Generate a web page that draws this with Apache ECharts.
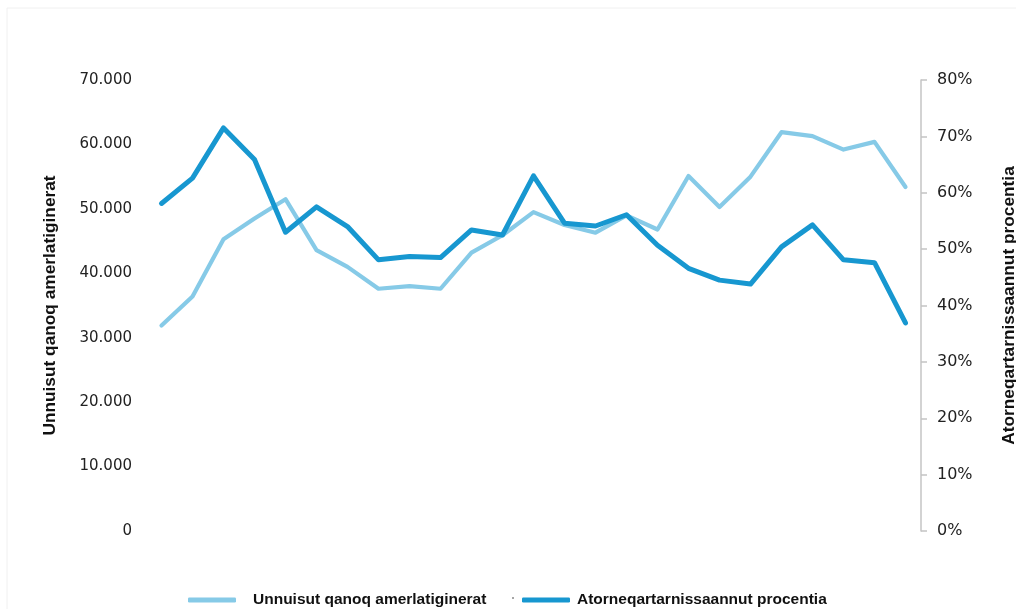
<!DOCTYPE html>
<html>
<head>
<meta charset="utf-8">
<script src="https://cdn.jsdelivr.net/npm/echarts@6/dist/echarts.min.js"></script>
<style>html,body{margin:0;padding:0;background:#fff;}#c{width:1016px;height:609px;}</style>
</head>
<body>
<div id="c"></div>
<script>
// Data
const categories = ["1","2","3","4","5","6","7","8","9","10","11","12","13","14","15","16","17","18","19","20","21","22","23","24","25"];
const countValues = [31900, 36400, 45300, 48500, 51500, 43600, 41000, 37600, 38000, 37600, 43200, 45900, 49500, 47500, 46300, 49000, 46800, 55100, 50300, 55000, 61900, 61300, 59200, 60400, 53400];
const percentValues = [58.1, 62.6, 71.5, 65.9, 53.0, 57.5, 54.0, 48.1, 48.7, 48.5, 53.4, 52.5, 63.0, 54.6, 54.1, 56.1, 50.7, 46.6, 44.5, 43.8, 50.4, 54.3, 48.1, 47.6, 36.9];
const seriesNames = ["Unnuisut qanoq amerlatiginerat", "Atorneqartarnissaannut procentia"];
const leftTitle = "Unnuisut qanoq amerlatiginerat";
const rightTitle = "Atorneqartarnissaannut procentia";

const lightColor = "#86CAE7";
const darkColor = "#1797D0";

const chart = echarts.init(document.getElementById('c'), null, {renderer: 'canvas'});
const fmtThousands = v => v === 0 ? '0' : String(v).replace(/\B(?=(\d{3})+(?!\d))/g, '.');

chart.setOption({
  backgroundColor: '#ffffff',
  animation: false,
  grid: {left: 146, right: 95, top: 80, bottom: 78, containLabel: false, outerBoundsMode: 'none'},
  legend: [
    {
      data: [{name: seriesNames[0], icon: 'roundRect'}],
      left: 183, top: 587,
      itemWidth: 48, itemHeight: 5,
      textStyle: {fontFamily: 'Liberation Sans, Arial', fontWeight: 'bold', fontSize: 15.5, color: '#111', padding: [0,0,0,12]}
    },
    {
      data: [{name: seriesNames[1], icon: 'roundRect'}],
      left: 517, top: 587,
      itemWidth: 48, itemHeight: 5,
      textStyle: {fontFamily: 'Liberation Sans, Arial', fontWeight: 'bold', fontSize: 15.5, color: '#111', padding: [0,0,0,2]}
    }
  ],
  graphic: [
    {type: 'rect', shape: {x: 7, y: 8, width: 1020, height: 620}, style: {fill: 'none', stroke: '#f0f0f0', lineWidth: 1}, silent: true},
    {type: 'circle', shape: {cx: 513, cy: 598, r: 1}, style: {fill: '#888'}, silent: true}
  ],
  xAxis: {
    type: 'category',
    data: categories,
    boundaryGap: true,
    axisLine: {show: false},
    axisTick: {show: false},
    axisLabel: {show: false},
    splitLine: {show: false}
  },
  yAxis: [
    {
      type: 'value', min: 0, max: 70000, interval: 10000,
      position: 'left',
      name: leftTitle, nameLocation: 'middle', nameGap: 87, nameRotate: 90,
      nameTextStyle: {fontFamily: 'Liberation Sans, Arial', fontWeight: 'bold', fontSize: 17.3, color: '#111'},
      axisLine: {show: false}, axisTick: {show: false}, splitLine: {show: false},
      axisLabel: {margin: 14, fontFamily: 'DejaVu Sans, Verdana', fontSize: 15, color: '#222', formatter: fmtThousands}
    },
    {
      type: 'value', min: 0, max: 80, interval: 10,
      position: 'right',
      name: rightTitle, nameLocation: 'middle', nameGap: 80, nameRotate: 90,
      nameTextStyle: {fontFamily: 'Liberation Sans, Arial', fontWeight: 'bold', fontSize: 17.3, color: '#111'},
      axisLine: {show: true, lineStyle: {color: '#C4C4C4', width: 1.5}},
      axisTick: {show: true, length: 6, lineStyle: {color: '#C4C4C4', width: 1.5}},
      splitLine: {show: false},
      axisLabel: {margin: 16, fontFamily: 'DejaVu Sans, Verdana', fontSize: 16, color: '#222', formatter: v => v + '%'}
    }
  ],
  series: [
    {
      name: seriesNames[0], type: 'line', yAxisIndex: 0, data: countValues,
      symbol: 'none', smooth: false,
      lineStyle: {color: lightColor, width: 4.2, cap: 'round', join: 'round'},
      itemStyle: {color: lightColor}, z: 2
    },
    {
      name: seriesNames[1], type: 'line', yAxisIndex: 1, data: percentValues,
      symbol: 'none', smooth: false,
      lineStyle: {color: darkColor, width: 5, cap: 'round', join: 'round'},
      itemStyle: {color: darkColor}, z: 3
    }
  ]
});
</script>
</body>
</html>
